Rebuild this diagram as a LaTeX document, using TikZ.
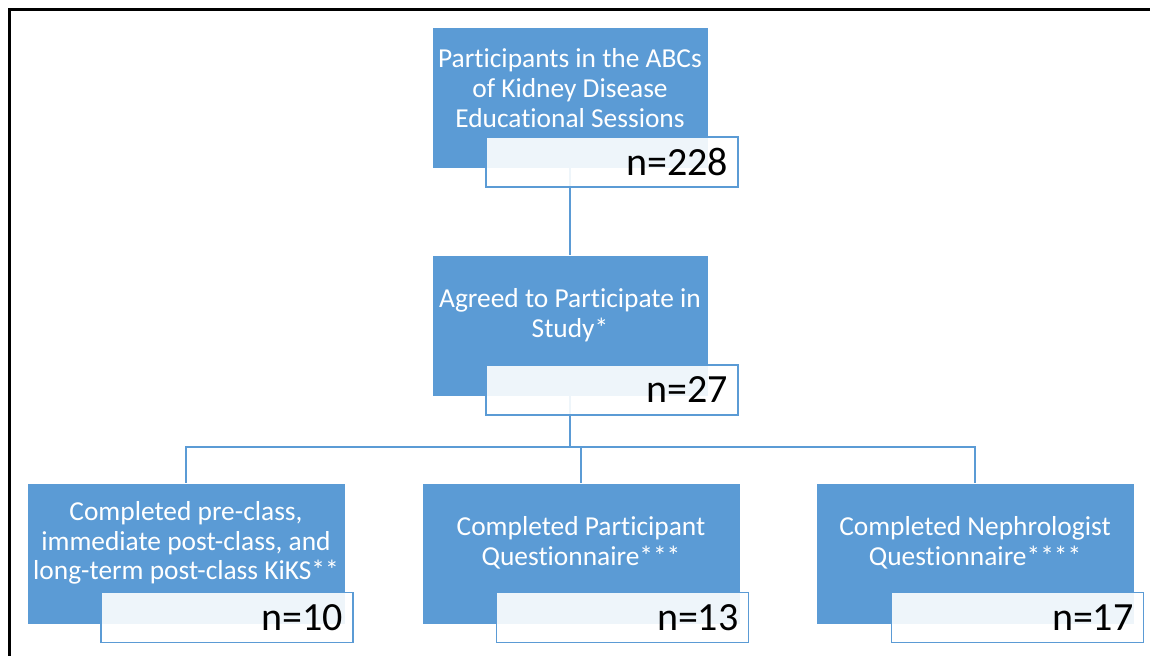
\documentclass[tikz,border=0pt]{standalone}
\usepackage{fontspec}
\setmainfont{Carlito}[Ligatures=NoCommon]
\usetikzlibrary{positioning,calc}
\definecolor{boxblue}{HTML}{5B9BD5}
\tikzset{
  stage/.style   = {draw=white, line width=0.4pt, fill=boxblue, minimum height=70.5pt, inner sep=0pt},
  count/.style   = {draw=boxblue, line width=0.8pt, fill=white, fill opacity=0.9, text opacity=1,
                    minimum width=126pt, minimum height=25pt, text width=116pt, inner xsep=5pt,
                    inner ysep=0pt, align=right, font=\fontsize{20}{23}\selectfont},
  caption/.style = {text=white, align=center, inner sep=0pt, font=\fontsize{13.7}{14.9}\selectfont},
  link/.style    = {draw=boxblue, line width=1pt},
}

\begin{document}
\begin{tikzpicture}[x=0.5pt,y=-0.5pt]
  \useasboundingbox (0,0) rectangle (1150,656);
  % outer frame
  \draw[line width=1.5pt] (9,656) -- (9,10) -- (1150,10);
  % stage boxes
  \node[stage, minimum width=138pt] (enrolled) at (570,97.5) {};
  \node[stage, minimum width=138pt] (agreed) at (570,325.5) {};
  \node[stage, minimum width=159pt] (kiks) at (186,553.5) {};
  \node[stage, minimum width=159pt] (partq) at (581,553.5) {};
  \node[stage, minimum width=159pt] (nephq) at (975,553.5) {};
  \node[caption] (enrolledtxt) at (570,88) {Participants in the ABCs\\of Kidney Disease\\Educational Sessions};
  \node[caption] (agreedtxt) at (570,315) {Agreed to Participate in\\Study*};
  \node[caption] (kikstxt) at (186,543) {Completed pre-class,\\immediate post-class, and\\long-term post-class KiKS**};
  \node[caption] (partqtxt) at (581,543) {Completed Participant\\Questionnaire***};
  \node[caption] (nephqtxt) at (975,543) {Completed Nephrologist\\Questionnaire****};
  % connectors
  \coordinate (split) at (570,447);
  \draw[link] (enrolled.south) -- (agreed.north);
  \draw[link] (agreed.south) -- (split);
  \draw[link] (split) -| (kiks.north);
  \draw[link] (split) -| (partq.north);
  \draw[link] (split) -| (nephq.north);
  % counts
  \node[count] (enrolledn) at (612,162) {n=228};
  \node[count] (agreedn) at (612,390) {n=27};
  \node[count] (kiksn) at (227,617.5) {n=10};
  \node[count] (partqn) at (622.5,617.5) {n=13};
  \node[count] (nephqn) at (1017.5,617.5) {n=17};
\end{tikzpicture}
\end{document}
